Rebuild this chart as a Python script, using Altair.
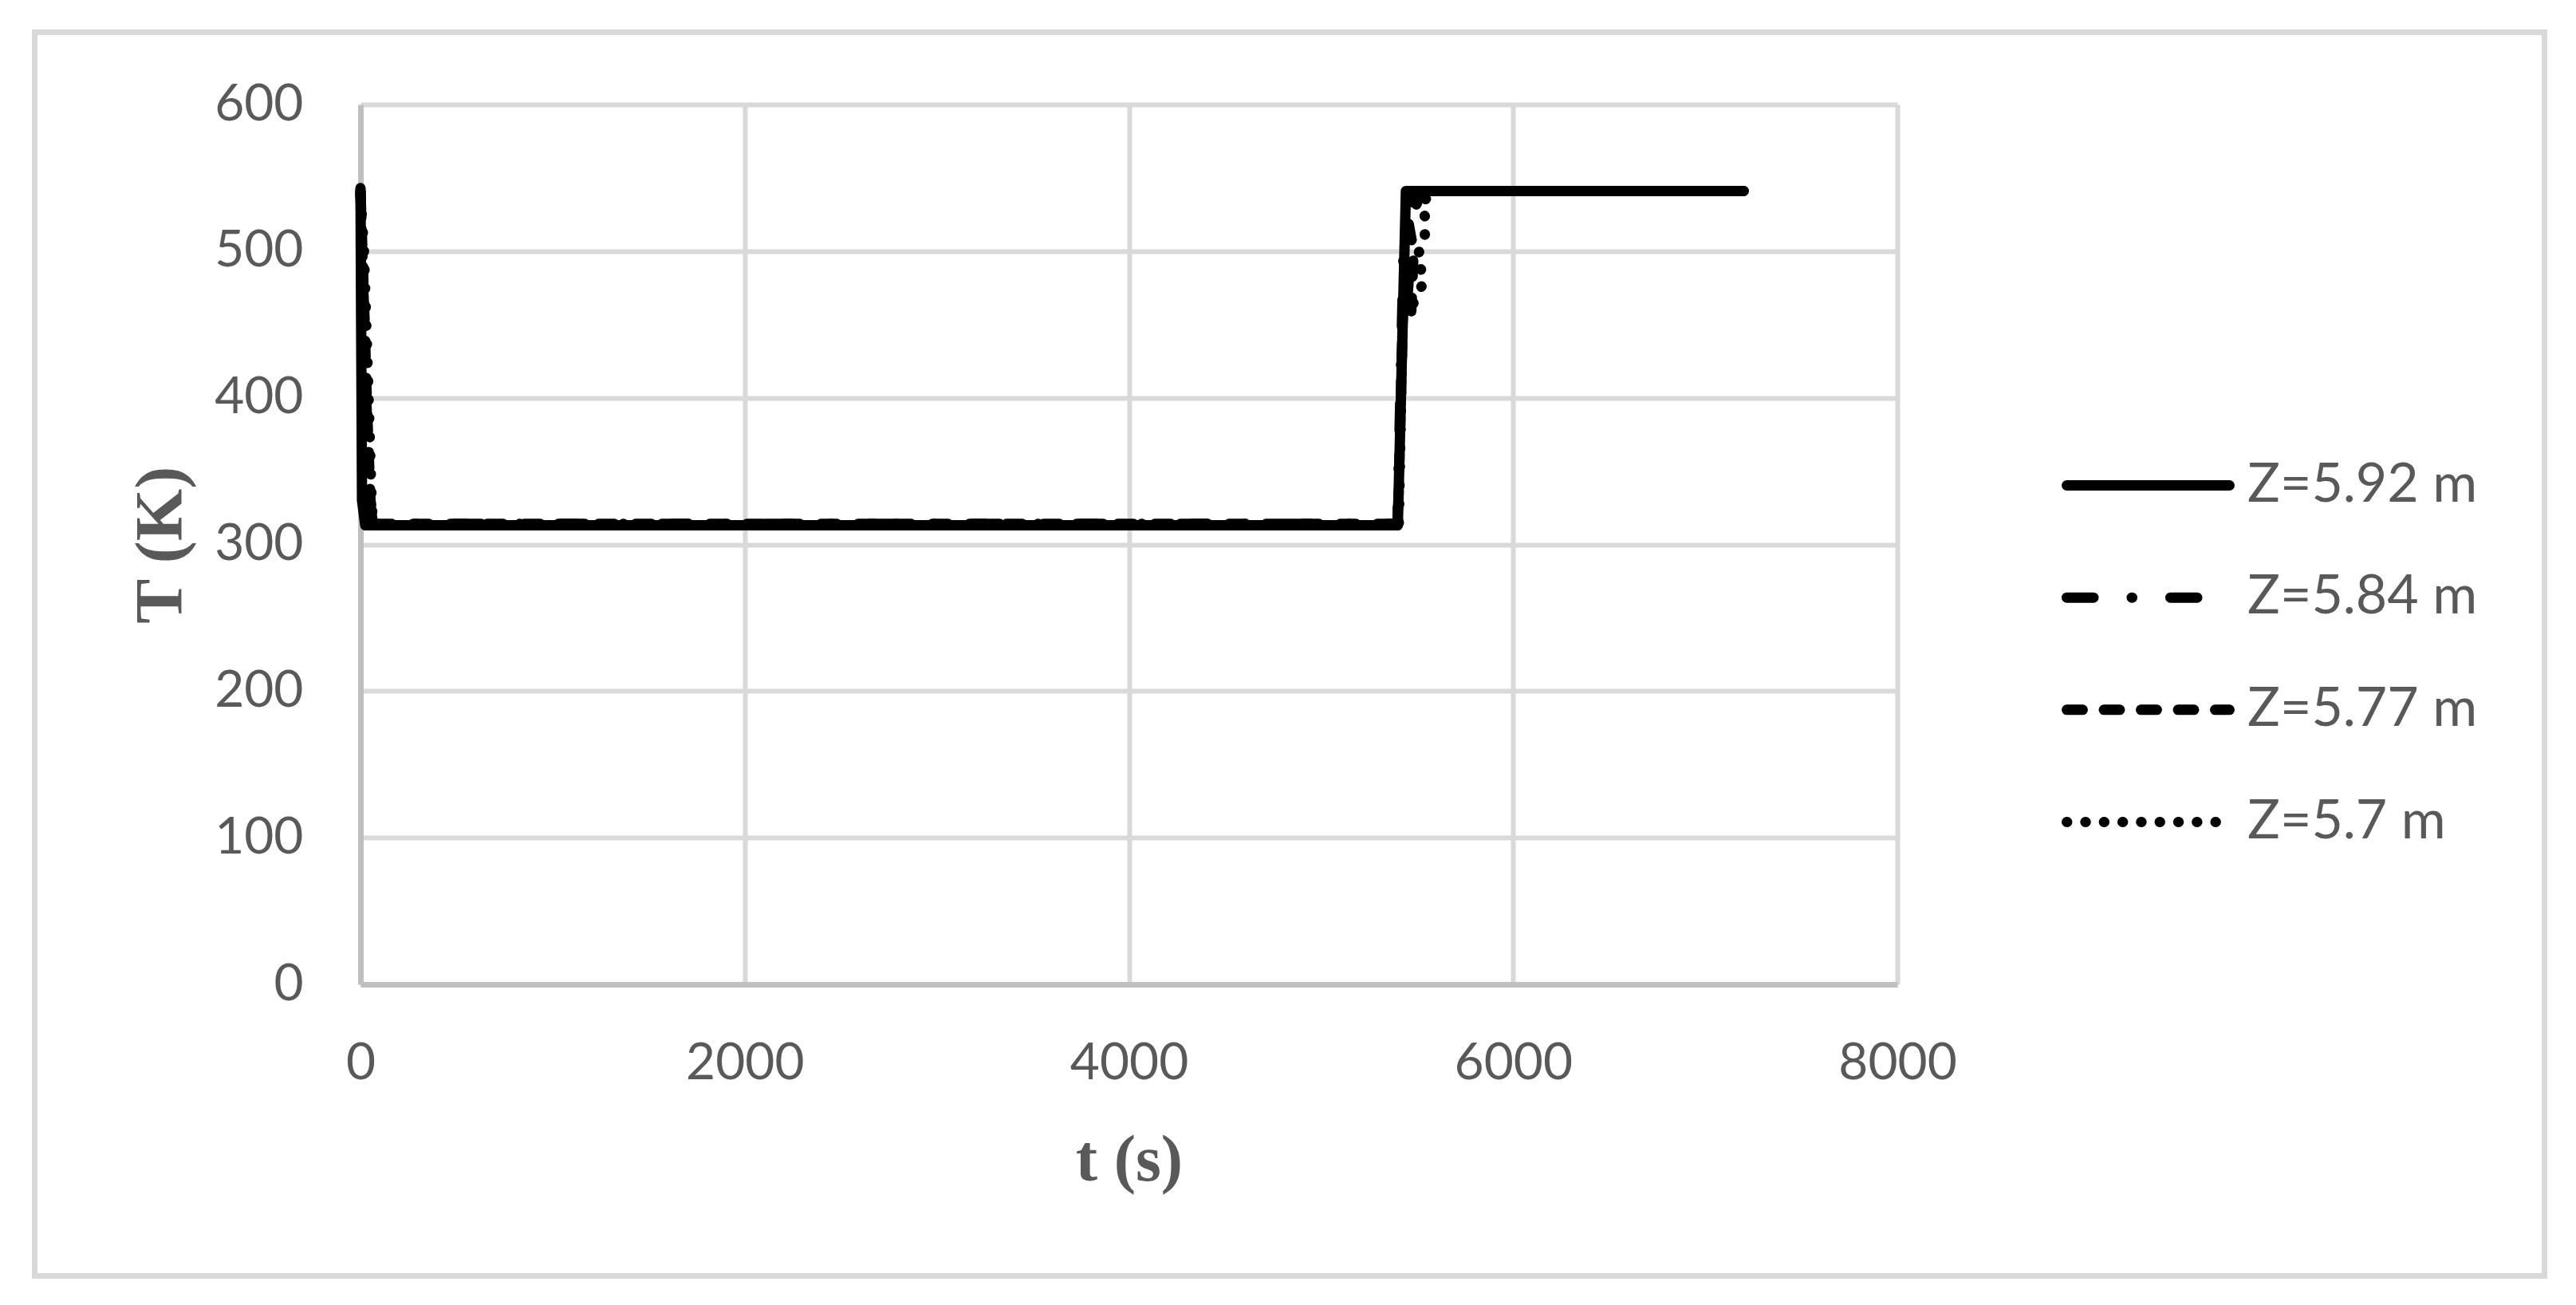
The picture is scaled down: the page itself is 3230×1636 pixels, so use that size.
import altair as alt
import pandas as pd

# ---- data ----
series = ["Z=5.92 m", "Z=5.84 m", "Z=5.77 m", "Z=5.7 m"]

t_592 = [0, 8, 25, 5400, 5442, 7200]
T_592 = [543, 330, 313, 313, 541, 541]

t_584 = [0, 12, 30, 48, 65, 5398, 5430, 5452, 5475, 5462, 5505, 5530, 7200]
T_584 = [541, 490, 400, 330, 314, 314, 500, 472, 515, 530, 541, 541, 541]

t_577 = [0, 15, 35, 52, 70, 5400, 5428, 5470, 5482, 5456, 5500, 5525, 7200]
T_577 = [540, 480, 390, 330, 314, 314, 468, 459, 500, 519, 533, 541, 541]

t_570 = [0, 18, 40, 56, 62, 78, 5405, 5425, 5490, 5540, 5498, 5540, 5545, 5524, 5555, 5600, 7200]
T_570 = [538, 500, 410, 338, 320, 313, 313, 455, 466, 481, 495, 510, 522, 530, 538, 541, 541]

x_ticks = [0, 2000, 4000, 6000, 8000]
y_ticks = [0, 100, 200, 300, 400, 500, 600]

rows = []
for name, ts, Ts in zip(series, [t_592, t_584, t_577, t_570], [T_592, T_584, T_577, T_570]):
    for i, (a, b) in enumerate(zip(ts, Ts)):
        rows.append({"series": name, "t": a, "T": b, "idx": i})
df = pd.DataFrame(rows)
leg_df = pd.DataFrame({"series": series})

GRAY = "#595959"
dash_scale = alt.Scale(domain=series,
                       range=[[1, 0], [33.5, 48, 0.5, 48], [20, 26.5], [0.5, 22.8]])

lines = alt.Chart(df).mark_line(
    color="black", strokeWidth=13, strokeCap="round", strokeJoin="round"
).encode(
    x=alt.X("t:Q", scale=alt.Scale(domain=[0, 8000], nice=False),
            axis=alt.Axis(values=x_ticks, format="d", title="t (s)",
                          titleFont="Liberation Serif", titleFontWeight="bold",
                          titleFontSize=82, titleColor=GRAY,
                          titleBaseline="alphabetic", titleY=245, titleX=963.5,
                          labelFont="Lato", labelFontSize=64, labelColor=GRAY,
                          labelPadding=67, ticks=False, tickSize=0,
                          labelFlush=False, labelOverlap=False,
                          domainColor="#bfbfbf", domainWidth=7,
                          gridColor="#d9d9d9", gridWidth=6)),
    y=alt.Y("T:Q", scale=alt.Scale(domain=[0, 600], nice=False),
            axis=alt.Axis(values=y_ticks, format="d", title="T (K)",
                          titleFont="Liberation Serif", titleFontWeight="bold",
                          titleFontSize=84, titleColor=GRAY,
                          titleBaseline="alphabetic", titleX=-225, titleY=551.75,
                          labelFont="Lato", labelFontSize=64, labelColor=GRAY,
                          labelPadding=72, ticks=False, tickSize=0,
                          labelFlush=False, labelOverlap=False,
                          domainColor="#bfbfbf", domainWidth=7,
                          gridColor="#d9d9d9", gridWidth=6)),
    strokeDash=alt.StrokeDash("series:N", scale=dash_scale, legend=None),
    order=alt.Order("idx:Q"),
)

leg_y = alt.Y("series:N", axis=None,
              scale=alt.Scale(type="point", domain=series, range=[477.5, 899.5], padding=0))

leg_rules = alt.Chart(leg_df).mark_rule(
    color="black", strokeWidth=13, strokeCap="round"
).encode(
    x=alt.value(2139.5), x2=alt.value(2343.5), y=leg_y,
    strokeDash=alt.StrokeDash("series:N", scale=dash_scale, legend=None),
)

leg_text = alt.Chart(leg_df).mark_text(
    align="left", baseline="middle", font="Lato", fontSize=68, color=GRAY
).encode(
    x=alt.value(2366), y=leg_y, text="series:N"
)

border = alt.Chart(pd.DataFrame({"a": [0]})).mark_rect(
    fillOpacity=0, stroke="#d9d9d9", strokeWidth=7
).encode(
    x=alt.value(-408.5), x2=alt.value(2738.5), y=alt.value(-90.5), y2=alt.value(1468.5)
)

chart = alt.layer(border, lines, leg_rules, leg_text).resolve_scale(
    y="independent", x="independent"
).properties(
    width=1927, height=1103,
    autosize=alt.AutoSizeParams(type="none"),
    padding={"left": 444, "top": 123, "right": 825, "bottom": 375},
    background="white",
).configure_view(stroke=None)

chart.save("out.html", embed_options={"renderer": "svg", "actions": False})
